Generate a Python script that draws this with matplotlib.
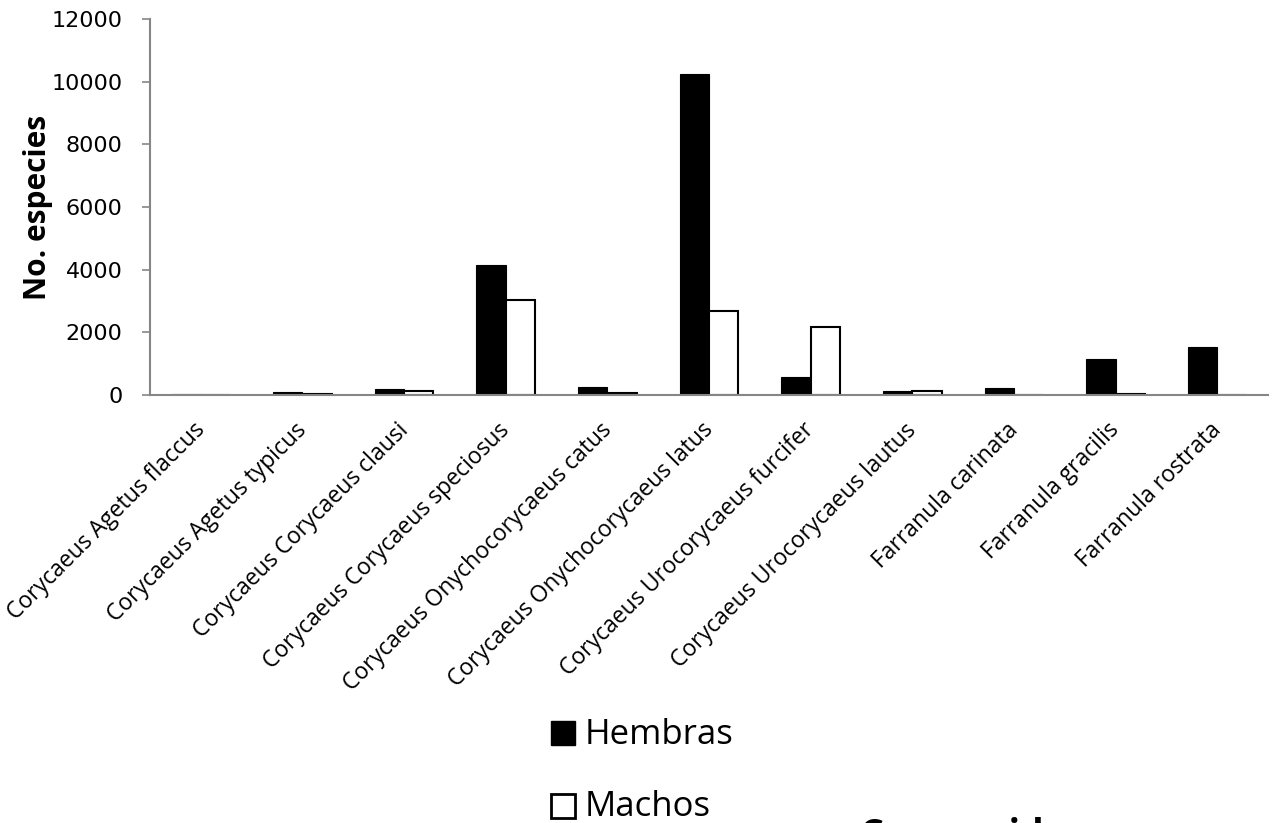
import matplotlib
matplotlib.use('Agg')
from matplotlib import pyplot as plt, patches, transforms
import numpy as np

species = [
    'Corycaeus Agetus flaccus',
    'Corycaeus Agetus typicus',
    'Corycaeus Corycaeus clausi',
    'Corycaeus Corycaeus speciosus',
    'Corycaeus Onychocorycaeus catus',
    'Corycaeus Onychocorycaeus latus',
    'Corycaeus Urocorycaeus furcifer',
    'Corycaeus Urocorycaeus lautus',
    'Farranula carinata',
    'Farranula gracilis',
    'Farranula rostrata',
]
hembras = [8, 75, 192, 4128, 235, 10259, 573, 125, 211, 1130, 1513]
machos = [0, 21, 107, 3029, 53, 2665, 2173, 120, 0, 30, 0]
y_ticks = [0, 2000, 4000, 6000, 8000, 10000, 12000]
legend_labels = ['Hembras', 'Machos']

FONT = ['Open Sans', 'DejaVu Sans']
AXIS_GRAY = '#868686'
W, H = 1274, 823

fig = plt.figure(figsize=(W / 100, H / 100), dpi=100)
ax = fig.add_axes([150 / W, 1 - 394.6 / H, 1118 / W, 375.3 / H])

x = np.arange(len(species))
width = 0.288
ax.bar(x - width / 2, hembras, width, color='black', edgecolor='black', linewidth=0.8)
ax.bar(x + width / 2, machos, width, color='white', edgecolor='black', linewidth=1.5)

ax.set_xlim(-0.5, len(species) - 0.5)
ax.set_ylim(0, 12000)
ax.set_yticks(y_ticks)
ax.set_yticklabels([str(t) for t in y_ticks], fontsize=16, family=['DejaVu Sans'])
ax.set_xticks(x)
ax.set_xticklabels(species, rotation=45, ha='right', rotation_mode='anchor',
                   fontsize=16.5, family=FONT)
ax.tick_params(axis='x', length=0, pad=17)
ax.tick_params(axis='y', length=5.8, width=1.2, color=AXIS_GRAY, pad=14)

# nudge the rotated category labels a little to the left
shift = transforms.ScaledTranslation(-8 / 100, 0, fig.dpi_scale_trans)
for lbl in ax.get_xticklabels():
    lbl.set_transform(lbl.get_transform() + shift)

for side in ['top', 'right']:
    ax.spines[side].set_visible(False)
for side in ['left', 'bottom']:
    ax.spines[side].set_color(AXIS_GRAY)
    ax.spines[side].set_linewidth(1.5)

ax.set_ylabel('No. especies', fontsize=21.5, fontweight='bold', family=FONT)
ax.yaxis.set_label_coords((53 - 150) / 1118, 0.5)

# legend below the chart, one entry per row
legend_styles = [dict(facecolor='black', edgecolor='black', linewidth=1),
                 dict(facecolor='white', edgecolor='black', linewidth=2)]
row_centers = [732.5, 805.5]
for label, style, yc in zip(legend_labels, legend_styles, row_centers):
    fig.add_artist(patches.Rectangle((551 / W, 1 - (yc + 12) / H), 24 / W, 24 / H,
                                     transform=fig.transFigure, **style))
    fig.text(585 / W, 1 - (yc + 11) / H, label, fontsize=25, family=FONT,
             va='baseline', ha='left')

# title mostly outside the figure, only the top shows
fig.text(860 / W, 1 - 846 / H, 'Corycaeidae', fontsize=27, fontweight='bold',
         family=FONT, va='baseline', ha='left')

fig.savefig('out.png', dpi=100)
